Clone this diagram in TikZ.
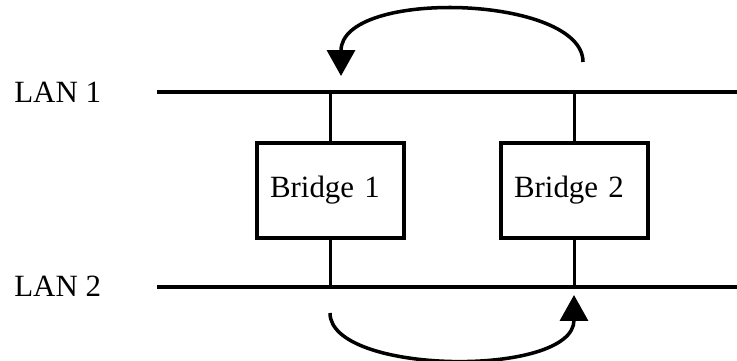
\documentclass[tikz,border=0pt]{standalone}
\usepackage{fontspec}
\setmainfont{Liberation Serif}
\usetikzlibrary{arrows.meta}
\tikzset{
  lan/.style={line width=2.8pt},
  tap/.style={line width=1.5pt},
  hop/.style={line width=2pt,-{Triangle[length=0.52cm,width=0.56cm]}},
  bridge/.style={draw,rectangle,line width=2pt,text width=2.42cm,inner xsep=0.26cm,
    inner ysep=0pt,minimum height=1.9cm,align=left,font=\fontsize{17.6}{21}\selectfont},
  lanlabel/.style={anchor=west,inner sep=0pt,font=\fontsize{17.6}{21}\selectfont}
}
\begin{document}
\begin{tikzpicture}[x=0.02cm,y=-0.02cm]
\useasboundingbox (0,0) rectangle (737,361);
% the two LAN segments
\node[lanlabel] (lan1) at (14,92) {LAN 1};
\node[lanlabel] (lan2) at (14,286) {LAN 2};
\coordinate (lan1w) at (157,92); \coordinate (lan1e) at (737,92);
\coordinate (lan2w) at (157,287); \coordinate (lan2e) at (737,287);
\draw[lan] (lan1w)--(lan1e);
\draw[lan] (lan2w)--(lan2e);
% bridges hanging between them
\node[bridge] (b1) at (330.5,190.5) {Bridge 1};
\node[bridge] (b2) at (574.5,190.5) {Bridge 2};
\draw[tap] (b1.north)--(b1.north |- lan1w);
\draw[tap] (b1.south)--(b1.south |- lan2w);
\draw[tap] (b2.north)--(b2.north |- lan1w);
\draw[tap] (b2.south)--(b2.south |- lan2w);
% frames going round the loop
\coordinate (up2) at (583,62); \coordinate (down1) at (341,76);
\coordinate (dn1) at (330,313); \coordinate (up2b) at (574,295);
\draw[hop] (up2) .. controls (583,-5) and (341,-12) .. (down1);
\draw[hop] (dn1) .. controls (330,375) and (574,378) .. (up2b);
\end{tikzpicture}
\end{document}
